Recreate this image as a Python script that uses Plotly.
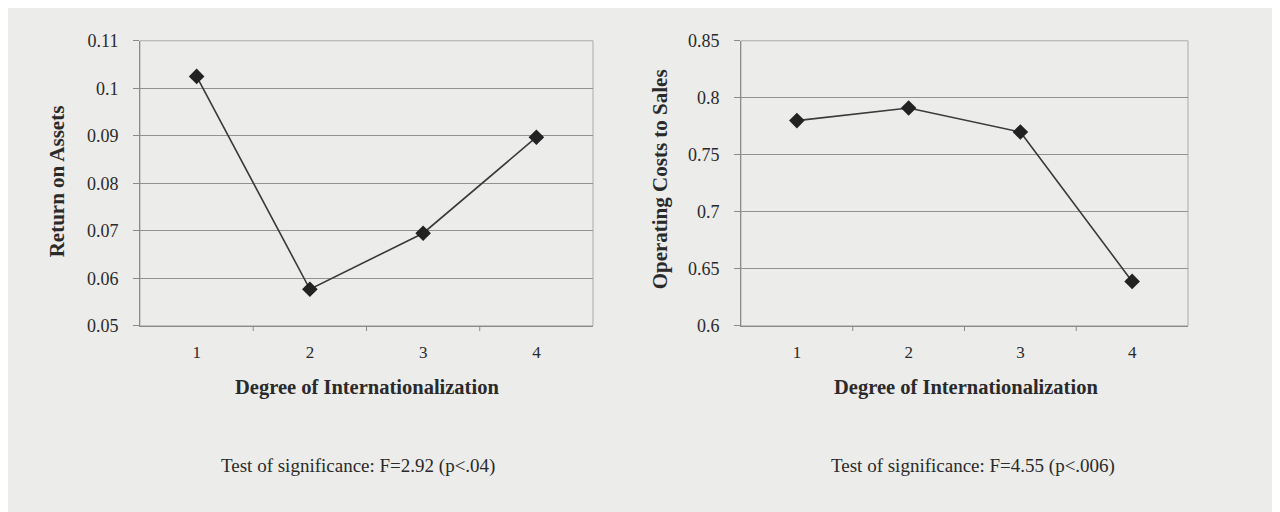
import plotly.graph_objects as go

categories = ["1", "2", "3", "4"]
roa_values = [0.1025, 0.0577, 0.0695, 0.0897]
ocs_values = [0.780, 0.791, 0.770, 0.639]
roa_ticks = [0.05, 0.06, 0.07, 0.08, 0.09, 0.1, 0.11]
roa_ticktext = ["0.05", "0.06", "0.07", "0.08", "0.09", "0.1", "0.11"]
ocs_ticks = [0.6, 0.65, 0.7, 0.75, 0.8, 0.85]
ocs_ticktext = ["0.6", "0.65", "0.7", "0.75", "0.8", "0.85"]
x_title = "Degree of Internationalization"
left_ytitle = "Return on Assets"
right_ytitle = "Operating Costs to Sales"
left_note = "Test of significance: F=2.92 (p<.04)"
right_note = "Test of significance: F=4.55 (p<.006)"

W, H = 1280, 512
FONT = "Liberation Serif"
BG = "#ececea"
INK = "#2a2a2a"

xpos = [1, 2, 3, 4]

fig = go.Figure()
for xa, ya, vals in (("x", "y", roa_values), ("x2", "y2", ocs_values)):
    fig.add_trace(go.Scatter(
        x=xpos, y=vals, mode="lines+markers", xaxis=xa, yaxis=ya,
        line=dict(color="#3a3a3a", width=1.6),
        marker=dict(symbol="diamond", size=12, color="#222222"),
        showlegend=False, hoverinfo="x+y"))


# screen-pixel -> paper fraction (empirical mapping of the rendered page)
def px(s):
    return (s - 8) / W


def py(s):
    return 1 - (s - 14) / 497


L = (140, 593)
R = (741, 1188)
TOP, BOT = 37, 325

common_x = dict(
    range=[0.5, 4.5], tickvals=xpos, ticktext=categories,
    showgrid=False, zeroline=False, showline=True, linecolor="#8a8a8a",
    linewidth=1, ticks="",
    tickfont=dict(family=FONT, size=17, color=INK), ticklabelstandoff=11,
    fixedrange=True,
)
common_y = dict(
    showgrid=True, gridcolor="#929292", gridwidth=1.3, zeroline=False,
    showline=True, linecolor="#8a8a8a", linewidth=1, ticks="outside",
    ticklen=6, tickcolor="#8a8a8a", ticklabelstandoff=11,
    tickfont=dict(family=FONT, size=18, color=INK), fixedrange=True,
)

fig.update_layout(
    width=W, height=H, margin=dict(l=0, r=0, t=0, b=0),
    paper_bgcolor=BG, plot_bgcolor=BG,
    xaxis=dict(domain=[px(L[0]), px(L[1])], anchor="y", **common_x),
    yaxis=dict(domain=[py(BOT), py(TOP)], anchor="x", range=[0.05, 0.11],
               tickvals=roa_ticks, ticktext=roa_ticktext, **common_y),
    xaxis2=dict(domain=[px(R[0]), px(R[1])], anchor="y2", **common_x),
    yaxis2=dict(domain=[py(BOT), py(TOP)], anchor="x2", range=[0.6, 0.85],
                tickvals=ocs_ticks, ticktext=ocs_ticktext, **common_y),
)

for xa, ya in (("x", "y"), ("x2", "y2")):
    fig.add_shape(type="rect", xref=f"{xa} domain", yref=f"{ya} domain",
                  x0=0, x1=1, y0=0, y1=1, line=dict(color="#ababab", width=1),
                  layer="below")
    for b in [1.5, 2.5, 3.5]:
        fig.add_shape(type="line", xref=xa, yref=f"{ya} domain",
                      x0=b, x1=b, y0=0, y1=-0.018,
                      line=dict(color="#8a8a8a", width=1))

ann_font_b = dict(family=FONT, size=20.5, color=INK, weight="bold")
ann_font_yb = dict(family=FONT, size=21, color=INK, weight="bold")
ann_font = dict(family=FONT, size=19, color=INK)


def note(x, y, text, font, angle=0):
    fig.add_annotation(x=px(x), y=py(y), xref="paper", yref="paper",
                       xanchor="center", yanchor="middle", textangle=angle,
                       text=text, showarrow=False, font=font)


note(367, 387, x_title, ann_font_b)
note(966, 387, x_title, ann_font_b)
note(57, 179, left_ytitle, ann_font_yb, -90)
note(660, 177, right_ytitle, ann_font_yb, -90)
note(358, 467, left_note, ann_font)
note(973, 467, right_note, ann_font)

fig.write_html("out.html")
